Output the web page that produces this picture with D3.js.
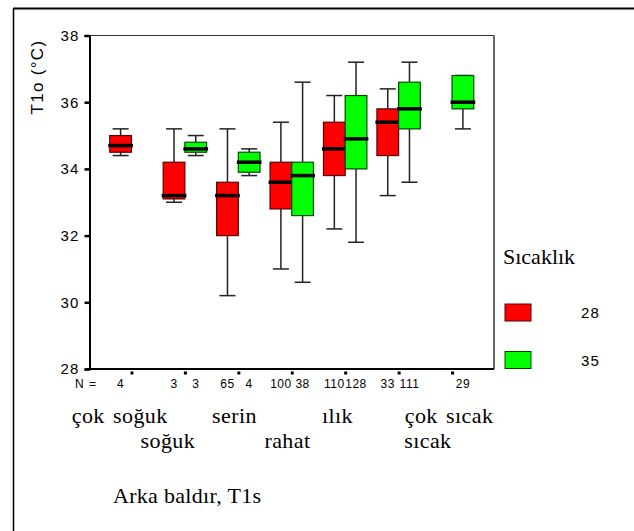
<!DOCTYPE html>
<html>
<head>
<meta charset="utf-8">
<script src="https://cdn.jsdelivr.net/npm/d3@7"></script>
<style>
  html, body { margin: 0; padding: 0; background: #fff; }
  svg { display: block; }
</style>
</head>
<body>
<svg id="chart" width="634" height="531"></svg>
<script>
// ---- data ----
const categories = ["çok soğuk", "soğuk", "serin", "rahat", "ılık", "sıcak", "çok sıcak"];
const groups = ["28", "35"];
// [min, q1, median, q3, max] per category; null = no data
const stats28 = [
  [34.4, 34.5, 34.7, 35.0, 35.2],
  [33.0, 33.1, 33.2, 34.2, 35.2],
  [30.2, 32.0, 33.2, 33.6, 35.2],
  [31.0, 32.8, 33.6, 34.2, 35.4],
  [32.2, 33.8, 34.6, 35.4, 36.2],
  [33.2, 34.4, 35.4, 35.8, 36.4],
  null
];
const stats35 = [
  null,
  [34.4, 34.5, 34.6, 34.8, 35.0],
  [33.8, 33.9, 34.2, 34.5, 34.6],
  [30.6, 32.6, 33.8, 34.2, 36.6],
  [31.8, 34.0, 34.9, 36.2, 37.2],
  [33.6, 35.2, 35.8, 36.6, 37.2],
  [35.2, 35.8, 36.0, 36.8, 36.8]
];
const n28 = [4, 3, 65, 100, 110, 33, null];
const n35 = [null, 3, 4, 38, 128, 111, 29];
const yTicks = [28, 30, 32, 34, 36, 38];
const yTitle = "T1o (°C)";
const xTitle = "Arka baldır, T1s";
const legendTitle = "Sıcaklık";

// ---- layout (styling only) ----
const labelRow = [0, 1, 0, 1, 0, 1, 0];
const labelDx = [-59.7, -44.3, -26.2, -27.3, -23.3, 5.7, -47.3];
const colors = { "28": "#ff0000", "35": "#00ff00" };
const strokes = { "28": "#5a0000", "35": "#004a00" };

const svg = d3.select("#chart");
const plot = { left: 89.5, right: 494, top: 35.5, bottom: 369 };

const x = d3.scalePoint().domain(categories).range([plot.left, plot.right]).padding(0.785);
const sub = d3.scaleBand().domain(groups).range([-21.7, 21.7]).paddingInner(0);
const y = d3.scaleLinear().domain([28, 38]).range([plot.bottom, plot.top]);

// outer frame
svg.append("line").attr("x1", 13.5).attr("x2", 13.5).attr("y1", 8).attr("y2", 531)
  .attr("stroke", "#000").attr("stroke-width", 1.5);
svg.append("line").attr("x1", 13).attr("x2", 634).attr("y1", 8.5).attr("y2", 8.5)
  .attr("stroke", "#000").attr("stroke-width", 2);

// plot frame (top, right)
svg.append("line").attr("x1", plot.left).attr("x2", plot.right).attr("y1", plot.top).attr("y2", plot.top)
  .attr("stroke", "#333").attr("stroke-width", 1.2);
svg.append("line").attr("x1", plot.right).attr("x2", plot.right).attr("y1", plot.top).attr("y2", plot.bottom)
  .attr("stroke", "#333").attr("stroke-width", 1.5);

const sans = "Arial, 'Liberation Sans', sans-serif";
const serif = "'Times New Roman', 'Liberation Serif', serif";

// y axis
const yAxis = d3.axisLeft(y).tickValues(yTicks).tickSize(5).tickPadding(5).tickFormat(d3.format("d"));
const gy = svg.append("g").attr("transform", `translate(${plot.left},0)`).call(yAxis);
gy.select(".domain").attr("stroke", "#000").attr("stroke-width", 2);
gy.selectAll(".tick line").attr("stroke", "#000").attr("stroke-width", 2.5);
gy.selectAll(".tick text").attr("font-family", sans)
  .attr("font-size", 15).attr("letter-spacing", 1.2).attr("fill", "#000");

// x axis
const xAxis = d3.axisBottom(x).tickSize(0).tickFormat("");
const gx = svg.append("g").attr("transform", `translate(0,${plot.bottom})`).call(xAxis);
gx.select(".domain").attr("stroke", "#000").attr("stroke-width", 2)
  .attr("d", `M${plot.left - 3},0H${plot.right}`);
gx.selectAll(".tick").append("rect").attr("x", -1.5).attr("y", 2.5).attr("width", 3).attr("height", 3).attr("fill", "#000");

// boxes
const boxData = [];
categories.forEach((c, i) => {
  [[groups[0], stats28[i], n28[i]], [groups[1], stats35[i], n35[i]]].forEach(([g, s, n]) => {
    if (s) boxData.push({ cat: c, group: g, s: s, n: n });
  });
});

const bw = sub.bandwidth();
const capW = 16;
const boxes = svg.append("g").selectAll("g").data(boxData).join("g")
  .attr("transform", d => `translate(${x(d.cat) + sub(d.group)},0)`);

// whiskers
boxes.append("line").attr("x1", bw / 2).attr("x2", bw / 2)
  .attr("y1", d => y(d.s[0])).attr("y2", d => y(d.s[4]))
  .attr("stroke", "#222").attr("stroke-width", 1.5);
boxes.append("line").attr("x1", bw / 2 - capW / 2).attr("x2", bw / 2 + capW / 2)
  .attr("y1", d => y(d.s[0])).attr("y2", d => y(d.s[0]))
  .attr("stroke", "#222").attr("stroke-width", 1.5);
boxes.append("line").attr("x1", bw / 2 - capW / 2).attr("x2", bw / 2 + capW / 2)
  .attr("y1", d => y(d.s[4])).attr("y2", d => y(d.s[4]))
  .attr("stroke", "#222").attr("stroke-width", 1.5);
// box
boxes.append("rect").attr("x", 0).attr("width", bw)
  .attr("y", d => y(d.s[3])).attr("height", d => y(d.s[1]) - y(d.s[3]))
  .attr("fill", d => colors[d.group]).attr("stroke", d => strokes[d.group]).attr("stroke-width", 1.2);
// median
boxes.append("line").attr("x1", -1.5).attr("x2", bw + 1.5)
  .attr("y1", d => y(d.s[2])).attr("y2", d => y(d.s[2]))
  .attr("stroke", "#000").attr("stroke-width", 3.5);

// N labels
svg.append("text").attr("x", 75).attr("y", 388).attr("font-family", sans).attr("font-size", 12)
  .attr("letter-spacing", 1).text("N =");
svg.append("g").selectAll("text").data(boxData).join("text")
  .attr("x", d => x(d.cat) + sub(d.group) + bw / 2).attr("y", 388)
  .attr("text-anchor", "middle").attr("font-family", sans).attr("font-size", 12)
  .attr("letter-spacing", 0.5).text(d => d.n);

// category labels
svg.append("g").selectAll("text").data(categories).join("text")
  .attr("x", (d, i) => x(d) + labelDx[i])
  .attr("y", (d, i) => labelRow[i] ? 448 : 423)
  .attr("font-family", serif).attr("font-size", 22).attr("letter-spacing", 0.4)
  .attr("word-spacing", 2.5).text(d => d);

// x title
svg.append("text").attr("x", 113).attr("y", 503).attr("font-family", serif).attr("font-size", 22)
  .attr("letter-spacing", 0.3).text(xTitle);

// y title
svg.append("text").attr("transform", "translate(43,77) rotate(-90)").attr("text-anchor", "middle")
  .attr("font-family", sans).attr("font-size", 17).attr("letter-spacing", 1.3).text(yTitle);

// legend
svg.append("text").attr("x", 503).attr("y", 264).attr("font-family", serif).attr("font-size", 22).text(legendTitle);
const leg = svg.append("g").selectAll("g").data(groups).join("g")
  .attr("transform", (d, i) => `translate(505,${304 + i * 47.5})`);
leg.append("rect").attr("width", 26).attr("height", 17)
  .attr("fill", d => colors[d]).attr("stroke", d => strokes[d]).attr("stroke-width", 1);
leg.append("text").attr("x", 76).attr("y", 14).attr("font-family", sans).attr("font-size", 15)
  .attr("letter-spacing", 1.2).text(d => d);
</script>
</body>
</html>
